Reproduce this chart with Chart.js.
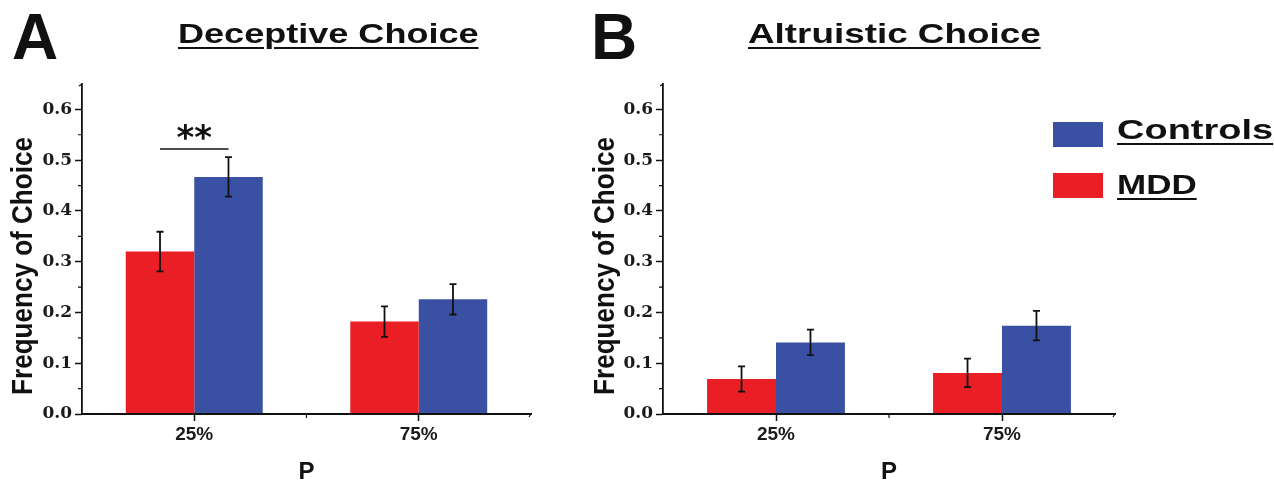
<!DOCTYPE html>
<html>
<head>
<meta charset="utf-8">
<script src="https://cdn.jsdelivr.net/npm/chart.js@4.4.1/dist/chart.umd.min.js"></script>
<style>
  body { margin: 0; width: 1274px; height: 481px; position: relative; background: #fff; overflow: hidden; }
  canvas { position: absolute; top: 0; }
  .txt { position: absolute; white-space: nowrap; line-height: 1; color: #111;
         font-family: 'Liberation Sans', Arial, sans-serif; font-weight: bold; transform-origin: 0 0; }
  .ul { text-decoration: underline; text-decoration-thickness: 2px; text-underline-offset: 4px; }
  .ytitle { transform-origin: 50% 50%; }
  .swatch { position: absolute; width: 50px; height: 25px; }
</style>
</head>
<body>
<canvas id="deceptive" width="581" height="481" style="left:0"></canvas>
<canvas id="altruistic" width="693" height="481" style="left:581px"></canvas>

<div class="txt" style="left:12px;top:5px;font-size:64px">A</div>
<div class="txt" style="left:591px;top:5px;font-size:64px">B</div>
<div class="txt ul" data-w="300" style="left:178px;top:20px;font-size:28px">Deceptive Choice</div>
<div class="txt ul" data-w="292" style="left:748px;top:20px;font-size:28px">Altruistic Choice</div>

<div class="txt ytitle" data-w="258" data-cx="22" data-cy="266" style="font-size:30px">Frequency of Choice</div>
<div class="txt ytitle" data-w="258" data-cx="604" data-cy="266" style="font-size:30px">Frequency of Choice</div>

<div class="swatch" style="left:1053px;top:122px;background:#3A50A2"></div>
<div class="txt ul" data-w="156" style="left:1117px;top:116px;font-size:28px">Controls</div>
<div class="swatch" style="left:1053px;top:173px;background:#EA1F25"></div>
<div class="txt ul" data-w="80" style="left:1117px;top:171px;font-size:28px">MDD</div>

<script>
// data
const categories = ['25%', '75%'];

const deceptiveMDD = [0.320, 0.182];
const deceptiveMDDErr = [0.039, 0.030];
const deceptiveControls = [0.467, 0.226];
const deceptiveControlsErr = [0.039, 0.030];

const altruisticMDD = [0.069, 0.081];
const altruisticMDDErr = [0.025, 0.028];
const altruisticControls = [0.141, 0.174];
const altruisticControlsErr = [0.025, 0.029];

// ** between MDD and Controls at 25% in panel A
const sigIndex = 0;
const sigLevel = 0.522;

const red = '#EA1F25';
const blue = '#3A50A2';
const ink = '#111';

const errorBars = {
  id: 'errorBars',
  afterDatasetsDraw(chart) {
    const { ctx, scales: { x, y }, chartArea } = chart;
    ctx.save();
    ctx.strokeStyle = ink;
    ctx.lineWidth = 1.8;
    // redraw the x axis line so bars don't cover it
    ctx.beginPath();
    ctx.moveTo(chartArea.left, chartArea.bottom);
    ctx.lineTo(chartArea.right, chartArea.bottom);
    ctx.stroke();
    chart.data.datasets.forEach((ds, di) => {
      chart.getDatasetMeta(di).data.forEach((bar, i) => {
        const hi = y.getPixelForValue(ds.data[i] + ds.errors[i]);
        const lo = y.getPixelForValue(ds.data[i] - ds.errors[i]);
        ctx.beginPath();
        ctx.moveTo(bar.x, hi); ctx.lineTo(bar.x, lo);
        ctx.moveTo(bar.x - 3.5, hi); ctx.lineTo(bar.x + 3.5, hi);
        ctx.moveTo(bar.x - 3.5, lo); ctx.lineTo(bar.x + 3.5, lo);
        ctx.stroke();
      });
    });

    // minor ticks + axis end hooks
    ctx.lineWidth = 1.2;
    ctx.beginPath();
    for (let k = 0; k < 6; k++) {
      const py = y.getPixelForValue(0.05 + k * 0.1);
      ctx.moveTo(chartArea.left - 4, py);
      ctx.lineTo(chartArea.left, py);
    }
    const mid = (x.getPixelForValue(0) + x.getPixelForValue(1)) / 2;
    ctx.moveTo(mid, chartArea.bottom);
    ctx.lineTo(mid, chartArea.bottom + 4);
    ctx.moveTo(chartArea.left - 3, chartArea.top + 2);
    ctx.lineTo(chartArea.left, chartArea.top);
    ctx.moveTo(chartArea.right, chartArea.bottom);
    ctx.lineTo(chartArea.right - 2, chartArea.bottom + 3);
    ctx.stroke();

    const sig = chart.options.plugins.sigMark;
    if (sig && sig.show) {
      const a = chart.getDatasetMeta(0).data[sig.index].x;
      const b = chart.getDatasetMeta(1).data[sig.index].x;
      const py = y.getPixelForValue(sig.level);
      ctx.lineWidth = 1.5;
      ctx.beginPath();
      ctx.moveTo(a, py); ctx.lineTo(b, py);
      ctx.stroke();
      ctx.fillStyle = ink;
      ctx.font = 'bold 34px "DejaVu Sans"';
      ctx.textAlign = 'center';
      ctx.textBaseline = 'alphabetic';
      ctx.fillText('**', (a + b) / 2, py);
    }
    ctx.restore();
  },
};

function makePanel(id, mdd, mddErr, ctrl, ctrlErr, rightPad, showSig) {
  return new Chart(document.getElementById(id), {
    type: 'bar',
    data: {
      labels: categories,
      datasets: [
        { label: 'MDD', data: mdd, errors: mddErr, backgroundColor: red,
          categoryPercentage: 0.61, barPercentage: 1 },
        { label: 'Controls', data: ctrl, errors: ctrlErr, backgroundColor: blue,
          categoryPercentage: 0.61, barPercentage: 1 },
      ],
    },
    options: {
      responsive: false,
      animation: false,
      events: [],
      layout: { padding: { left: 0, top: 84, right: rightPad, bottom: 0 } },
      plugins: {
        legend: { display: false },
        tooltip: { enabled: false },
        sigMark: { show: showSig, index: sigIndex, level: sigLevel },
      },
      scales: {
        x: {
          afterFit: (s) => { s.height = 67; },
          border: { color: ink, width: 1.8 },
          grid: { drawOnChartArea: false, offset: false, tickLength: 7, tickColor: ink, tickWidth: 1.5 },
          ticks: { color: '#1a1a1a', padding: 2,
                   font: { family: "'Liberation Sans', Arial, sans-serif", size: 19, weight: 'bold' } },
          title: { display: true, text: 'P', color: '#111', padding: 0,
                   font: { family: "'Liberation Sans', Arial, sans-serif", size: 24, weight: 'bold', lineHeight: 0.75 } },
        },
        y: {
          min: 0,
          max: 0.65,
          afterFit: (s) => { s.width = 82; },
          afterBuildTicks: (s) => { s.ticks = s.ticks.filter((t) => t.value <= 0.6 + 1e-9); },
          border: { color: ink, width: 1.8 },
          grid: { drawOnChartArea: false, tickLength: 7, tickColor: ink, tickWidth: 1.5 },
          ticks: { stepSize: 0.1, color: '#1a1a1a', padding: 3,
                   callback: (v) => Number(v).toFixed(1),
                   font: { family: "'DejaVu Serif', serif", size: 17, weight: 'bold' } },
        },
      },
    },
    plugins: [errorBars],
  });
}

makePanel('deceptive', deceptiveMDD, deceptiveMDDErr, deceptiveControls, deceptiveControlsErr, 50, true);
makePanel('altruistic', altruisticMDD, altruisticMDDErr, altruisticControls, altruisticControlsErr, 159, false);

// squeeze/stretch the html labels to the widths in the figure
document.querySelectorAll('.txt[data-w]').forEach((el) => {
  const s = Number(el.dataset.w) / el.offsetWidth;
  if (el.classList.contains('ytitle')) {
    el.style.left = el.dataset.cx + 'px';
    el.style.top = el.dataset.cy + 'px';
    el.style.transform = `translate(-50%, -50%) rotate(-90deg) scaleX(${s})`;
  } else {
    el.style.transform = `scaleX(${s})`;
  }
});
</script>
</body>
</html>
